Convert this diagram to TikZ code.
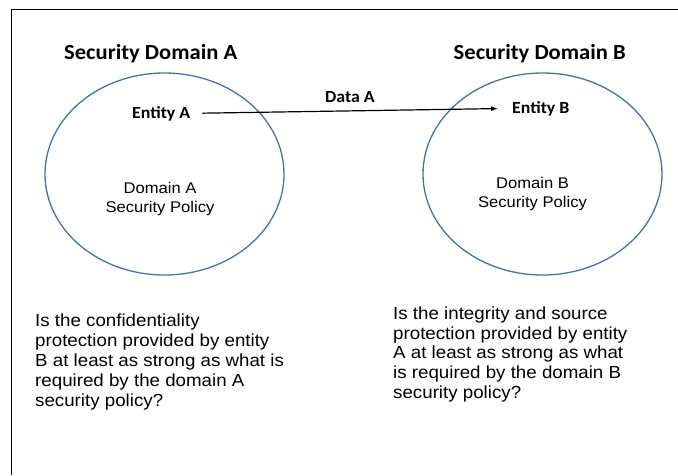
\documentclass[tikz,border=0pt]{standalone}
\usepackage{fontspec}
\usetikzlibrary{shapes.geometric,arrows.meta}
\newfontfamily\calfont[FakeStretch=1.05]{Carlito}
\newfontfamily\arfont[FakeStretch=1.07]{Liberation Sans}
\definecolor{ellblue}{RGB}{70,114,168}
\begin{document}
\begin{tikzpicture}[x=1pt,y=-1pt,
  domainell/.style={draw=ellblue,line width=1.3pt,ellipse,minimum width=239pt,minimum height=202pt,inner sep=0pt},
  sectitle/.style={font=\calfont\bfseries\fontsize{21.5}{25}\selectfont,inner sep=0pt},
  entitylbl/.style={font=\calfont\bfseries\fontsize{17}{19}\selectfont,inner sep=0pt},
  policylbl/.style={font=\arfont\fontsize{15.5}{18.5}\selectfont,align=center,inner sep=0pt},
  questionlbl/.style={font=\arfont\fontsize{17.5}{19.8}\selectfont,align=left,inner sep=0pt,anchor=north west},
  dataarrow/.style={line width=1.2pt,-{Latex[length=7pt,width=5pt]}},
  borderline/.style={line width=1pt,black}]
\useasboundingbox (0,0) rectangle (678,475);
\draw[borderline] (11,475) -- (11,9) -- (678,9);
\node[domainell] (domA) at (164.5,174) {};
\node[domainell] (domB) at (542.5,174) {};
\node[sectitle,anchor=base west] (tA) at (64,59) {Security Domain A};
\node[sectitle,anchor=base east] (tB) at (626,59) {Security Domain B};
\node[entitylbl,anchor=base west] (ea) at (132,118) {Entity A};
\node[entitylbl,anchor=base west] (eb) at (512,113) {Entity B};
\node[entitylbl,anchor=base west] (data) at (325,102) {Data A};
\draw[dataarrow,shorten <=12pt,shorten >=14pt] (ea.east) -- (eb.west);
\node[policylbl] (pA) at (160,199) {Domain A\\Security Policy};
\node[policylbl] (pB) at (532.5,194) {Domain B\\Security Policy};
\node[questionlbl] (qA) at (35,314) {Is the confidentiality\\protection provided by entity\\B at least as strong as what is\\required by the domain A\\security policy?};
\node[questionlbl] (qB) at (393,306.5) {Is the integrity and source\\protection provided by entity\\A at least as strong as what\\is required by the domain B\\security policy?};
\end{tikzpicture}
\end{document}
